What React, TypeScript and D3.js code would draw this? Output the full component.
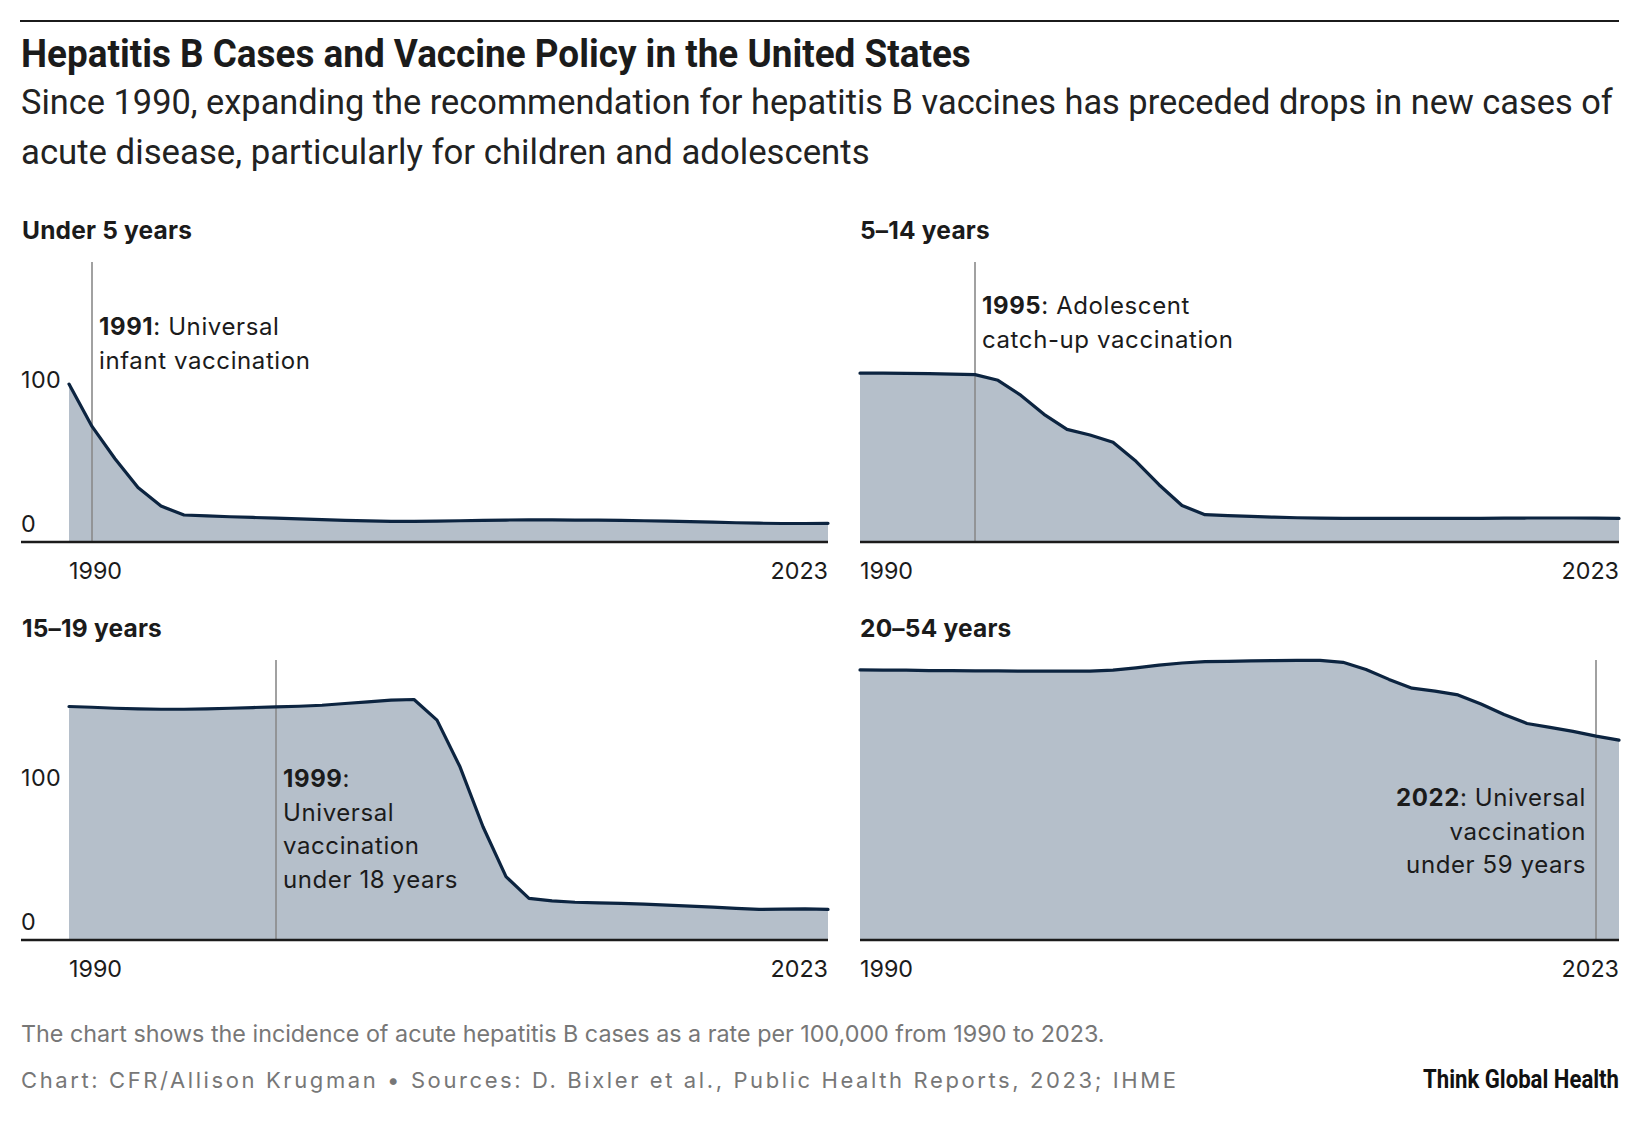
import React, { useEffect, useRef } from 'react';
import * as d3 from 'd3';

// years shared by every panel
const years = [
  1990, 1991, 1992, 1993, 1994, 1995, 1996, 1997, 1998, 1999, 2000, 2001,
  2002, 2003, 2004, 2005, 2006, 2007, 2008, 2009, 2010, 2011, 2012, 2013,
  2014, 2015, 2016, 2017, 2018, 2019, 2020, 2021, 2022, 2023,
];

// acute hepatitis B incidence per 100,000
const under5 = [
  110, 80.5, 58, 38, 25, 18.8, 18.2, 17.6, 17.1, 16.6, 16.1, 15.6, 15.1, 14.7,
  14.4, 14.3, 14.5, 14.8, 15.1, 15.3, 15.4, 15.4, 15.3, 15.2, 15.0, 14.8, 14.6,
  14.2, 13.8, 13.4, 13.1, 12.9, 12.9, 13.0,
];
const age5to14 = [
  117.6, 117.6, 117.4, 117.2, 116.9, 116.6, 112.6, 102.1, 88.9, 78.4, 74.5,
  69.4, 56.2, 39.9, 25.4, 19.0, 18.3, 17.8, 17.3, 16.9, 16.6, 16.5, 16.5, 16.4,
  16.4, 16.4, 16.4, 16.5, 16.6, 16.7, 16.7, 16.7, 16.6, 16.4,
];
const age15to19 = [
  162.6, 162.1, 161.4, 160.9, 160.7, 160.7, 160.9, 161.4, 161.9, 162.3, 162.8,
  163.5, 164.7, 165.9, 167.0, 167.5, 153.1, 120.6, 78.9, 44.1, 29.0, 27.2,
  26.3, 25.8, 25.5, 25.0, 24.3, 23.6, 22.9, 22.0, 21.3, 21.5, 21.7, 21.3,
];
const age20to54 = [
  188.1, 187.9, 187.9, 187.6, 187.6, 187.4, 187.4, 187.2, 187.2, 187.2, 187.2,
  187.9, 189.5, 191.4, 192.9, 193.9, 194.1, 194.4, 194.6, 194.8, 194.8, 193.4,
  188.4, 181.5, 175.4, 173.3, 170.7, 164.3, 157.1, 150.8, 148.1, 145.3, 142.0,
  139.2,
];

const panelTitles = ['Under 5 years', '5–14 years', '15–19 years', '20–54 years'];
const panelSeries = [under5, age5to14, age15to19, age20to54];
const policyYears = [1991, 1995, 1999, 2022];
const policyNotes = [
  [': Universal', 'infant vaccination'],
  [': Adolescent', 'catch-up vaccination'],
  [':', 'Universal', 'vaccination', 'under 18 years'],
  [': Universal', 'vaccination', 'under 59 years'],
];
const yTicks = [0, 100];
const xTickYears = [1990, 2023];

const title = 'Hepatitis B Cases and Vaccine Policy in the United States';
const subtitle = [
  'Since 1990, expanding the recommendation for hepatitis B vaccines has preceded drops in new cases of',
  'acute disease, particularly for children and adolescents',
];
const footnote = 'The chart shows the incidence of acute hepatitis B cases as a rate per 100,000 from 1990 to 2023.';
const credit = 'Chart: CFR/Allison Krugman • Sources: D. Bixler et al., Public Health Reports, 2023; IHME';
const logo = 'Think Global Health';

const W = 1640;
const H = 1126;
const SANS = 'Inter, Roboto, sans-serif';
const COND = 'Roboto, sans-serif';
const INK = '#1b1b1b';
const FILL = '#b5bfca';
const LINE = '#0c2440';
const GREY = '#777777';

type Sel = d3.Selection<SVGSVGElement, unknown, null, undefined>;

// condensed look: draw the text, then squeeze it horizontally to the wanted width
const squeezed = (
  svg: Sel, str: string, x: number, y: number, width: number,
  size: number, weight: number, color: string, anchor: 'start' | 'end' = 'start',
) => {
  const g = svg.append('g');
  const t = g.append('text')
    .attr('font-family', COND).attr('font-weight', weight).attr('font-size', size)
    .attr('fill', color).attr('text-anchor', anchor)
    .text(str);
  const natural = (t.node() as SVGTextElement).getComputedTextLength() || width;
  g.attr('transform', `translate(${x},${y}) scale(${width / natural},1)`);
};

const App: React.FC = () => {
  const svgRef = useRef<SVGSVGElement>(null);

  useEffect(() => {
    if (!svgRef.current) return;
    const svg = d3.select(svgRef.current);
    svg.selectAll('*').remove();

    // header
    svg.append('line')
      .attr('x1', 20).attr('x2', 1619).attr('y1', 21).attr('y2', 21)
      .attr('stroke', INK).attr('stroke-width', 2.2);

    squeezed(svg, title, 21, 67, 950, 38, 700, INK);
    squeezed(svg, subtitle[0], 21, 114, 1592, 35.5, 400, '#222');
    squeezed(svg, subtitle[1], 21, 163.5, 849, 35.5, 400, '#222');

    // panel grid
    const cols = [
      { plotX: 69, axisX: 21, labelX: 22 },
      { plotX: 860, axisX: 860, labelX: 860 },
    ];
    const plotW = 759;
    const rows = [
      { top: 262, bottom: 542 },
      { top: 660, bottom: 940 },
    ];
    // first baseline of each policy note, below the top of its rule
    const noteOffsets = [73, 52, 127, 146];
    const noteLead = 33.5;

    panelSeries.forEach((series, i) => {
      const col = cols[i % 2];
      const row = rows[Math.floor(i / 2)];

      const x = d3.scaleLinear()
        .domain([years[0], years[years.length - 1]])
        .range([col.plotX, col.plotX + plotW]);
      const y = d3.scaleLinear().domain([0, 195]).range([row.bottom, row.top]);

      const data = years.map((yr, j) => ({ yr, v: series[j] }));
      const g = svg.append('g');

      g.append('text')
        .attr('x', col.labelX).attr('y', row.top - 23)
        .attr('font-family', SANS).attr('font-weight', 700).attr('font-size', 24.5)
        .attr('letter-spacing', 0.2)
        .attr('fill', INK)
        .text(panelTitles[i]);

      const area = d3.area<{ yr: number; v: number }>()
        .x(d => x(d.yr)).y0(y(0)).y1(d => y(d.v));
      g.append('path').attr('d', area(data) as string).attr('fill', FILL);

      const px = x(policyYears[i]);
      g.append('line')
        .attr('x1', px).attr('x2', px).attr('y1', row.top).attr('y2', row.bottom)
        .attr('stroke', '#8a8a8a').attr('stroke-width', 1.6);

      const line = d3.line<{ yr: number; v: number }>()
        .x(d => x(d.yr)).y(d => y(d.v));
      g.append('path')
        .attr('d', line(data) as string)
        .attr('fill', 'none').attr('stroke', LINE).attr('stroke-width', 3.2)
        .attr('stroke-linejoin', 'round').attr('stroke-linecap', 'round');

      // policy note: right of the rule, except when the rule sits at the right edge
      const rightSide = px > col.plotX + plotW - 100;
      const note = g.append('text')
        .attr('font-family', SANS).attr('font-size', 24).attr('fill', INK)
        .attr('letter-spacing', 0.6)
        .attr('text-anchor', rightSide ? 'end' : 'start');
      const tx = rightSide ? px - 10 : px + 7;
      policyNotes[i].forEach((ln, k) => {
        const t = note.append('tspan')
          .attr('x', tx).attr('y', row.top + noteOffsets[i] + k * noteLead);
        if (k === 0) {
          t.append('tspan').attr('font-weight', 700).text(String(policyYears[i]));
          t.append('tspan').text(ln);
        } else {
          t.text(ln);
        }
      });

      // baseline axis
      g.append('line')
        .attr('x1', col.axisX).attr('x2', col.plotX + plotW)
        .attr('y1', row.bottom).attr('y2', row.bottom)
        .attr('stroke', INK).attr('stroke-width', 2.4);

      xTickYears.forEach((yr, k) => {
        g.append('text')
          .attr('x', x(yr)).attr('y', row.bottom + 36.5)
          .attr('text-anchor', k === 0 ? 'start' : 'end')
          .attr('font-family', SANS).attr('font-size', 23.3).attr('fill', INK)
          .text(String(yr));
      });

      if (i % 2 === 0) {
        yTicks.forEach(v => {
          g.append('text')
            .attr('x', 21).attr('y', y(v) - 10)
            .attr('font-family', SANS).attr('font-size', 23.3).attr('fill', INK)
            .attr('letter-spacing', 0.4)
            .text(String(v));
        });
      }
    });

    // footer
    svg.append('text')
      .attr('x', 21).attr('y', 1042)
      .attr('font-family', SANS).attr('font-size', 23.3).attr('fill', GREY)
      .text(footnote);

    svg.append('text')
      .attr('x', 21).attr('y', 1088)
      .attr('font-family', SANS).attr('font-size', 22).attr('fill', GREY)
      .attr('letter-spacing', 2.6)
      .text(credit);

    squeezed(svg, logo, 1619, 1088, 196, 25, 700, '#111', 'end');
  }, []);

  return (
    <svg
      ref={svgRef}
      width={W}
      height={H}
      viewBox={`0 0 ${W} ${H}`}
      style={{ position: 'absolute', left: 0, top: 0, background: '#fff', display: 'block' }}
    />
  );
};

export default App;
